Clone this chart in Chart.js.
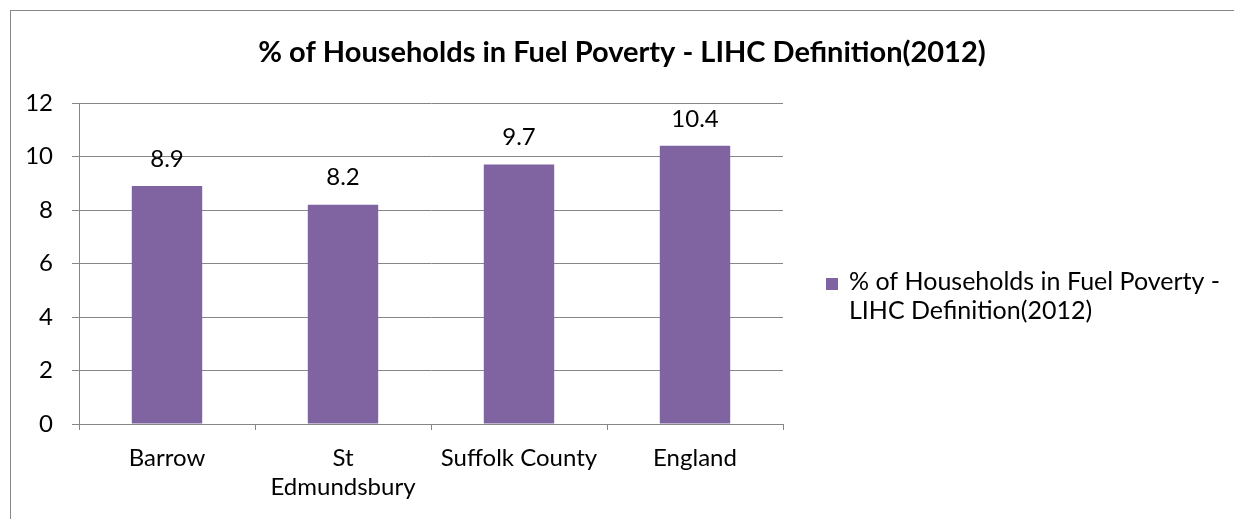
<!DOCTYPE html>
<html>
<head>
<meta charset="utf-8">
<title>Fuel Poverty chart</title>
<script src="https://cdn.jsdelivr.net/npm/chart.js@4"></script>
<style>
  html, body { margin: 0; padding: 0; background: #fff; overflow: hidden; }
  canvas { display: block; }
</style>
</head>
<body>
<canvas id="fuelChart" width="1234" height="519"></canvas>
<script>
// chart data
const chartTitle = '% of Households in Fuel Poverty - LIHC Definition(2012)';
const categories = ['Barrow', ['St', 'Edmundsbury'], 'Suffolk County', 'England'];
const fuelPoverty = [8.9, 8.2, 9.7, 10.4];
const legendLines = ['% of Households in Fuel Poverty -', 'LIHC Definition(2012)'];
const yMin = 0, yMax = 12, yStep = 2;

const FONT = 'Lato, "Open Sans", sans-serif';
const BAR_COLOR = '#8064A2';
const GRID_COLOR = '#868686';

// frame, title, legend and value labels drawn on the canvas
const decorations = {
  id: 'decorations',
  beforeDraw(chart) {
    const ctx = chart.ctx;
    ctx.save();
    ctx.fillStyle = '#fff';
    ctx.fillRect(0, 0, chart.width, chart.height);
    ctx.strokeStyle = '#888';
    ctx.lineWidth = 1;
    ctx.strokeRect(10.5, 10.5, 1240, 520);
    ctx.restore();
  },
  afterDatasetsDraw(chart) {
    const ctx = chart.ctx;
    ctx.save();
    // title
    ctx.fillStyle = '#000';
    ctx.font = 'bold 29px ' + FONT;
    ctx.textAlign = 'center';
    ctx.textBaseline = 'middle';
    ctx.fillText(chartTitle, 622, 53);

    // value labels
    ctx.font = '24px ' + FONT;
    ctx.textBaseline = 'bottom';
    const meta = chart.getDatasetMeta(0);
    meta.data.forEach(function(bar, i) {
      ctx.fillText(String(fuelPoverty[i]), bar.x, bar.y - 15);
    });

    // legend
    ctx.fillStyle = BAR_COLOR;
    ctx.fillRect(826, 278, 12, 12);
    ctx.fillStyle = '#000';
    ctx.font = '25px ' + FONT;
    ctx.textAlign = 'left';
    ctx.textBaseline = 'middle';
    legendLines.forEach(function(line, i) {
      ctx.fillText(line, 849, 282 + i * 29);
    });
    ctx.restore();
  }
};

new Chart(document.getElementById('fuelChart'), {
  type: 'bar',
  data: {
    labels: categories,
    datasets: [{
      label: chartTitle,
      data: fuelPoverty,
      backgroundColor: BAR_COLOR,
      categoryPercentage: 1,
      barPercentage: 0.4
    }]
  },
  options: {
    responsive: false,
    animation: false,
    layout: {
      padding: { left: 20, right: 451, top: 103, bottom: 0 }
    },
    plugins: {
      legend: { display: false },
      title: { display: false },
      tooltip: { enabled: false }
    },
    scales: {
      x: {
        grid: {
          drawOnChartArea: false,
          drawTicks: true,
          tickLength: 6,
          color: GRID_COLOR
        },
        border: { color: GRID_COLOR },
        ticks: {
          color: '#000',
          font: { family: FONT, size: 24 },
          padding: 14,
          maxRotation: 0,
          autoSkip: false
        },
        afterFit(scale) { scale.height = 95; }
      },
      y: {
        min: yMin,
        max: yMax,
        grid: {
          color: GRID_COLOR,
          tickLength: 7
        },
        border: { color: GRID_COLOR },
        ticks: {
          stepSize: yStep,
          color: '#000',
          font: { family: FONT, size: 24 },
          padding: 19
        },
        afterFit(scale) { scale.width = 59; }
      }
    }
  },
  plugins: [decorations]
});
</script>
</body>
</html>
